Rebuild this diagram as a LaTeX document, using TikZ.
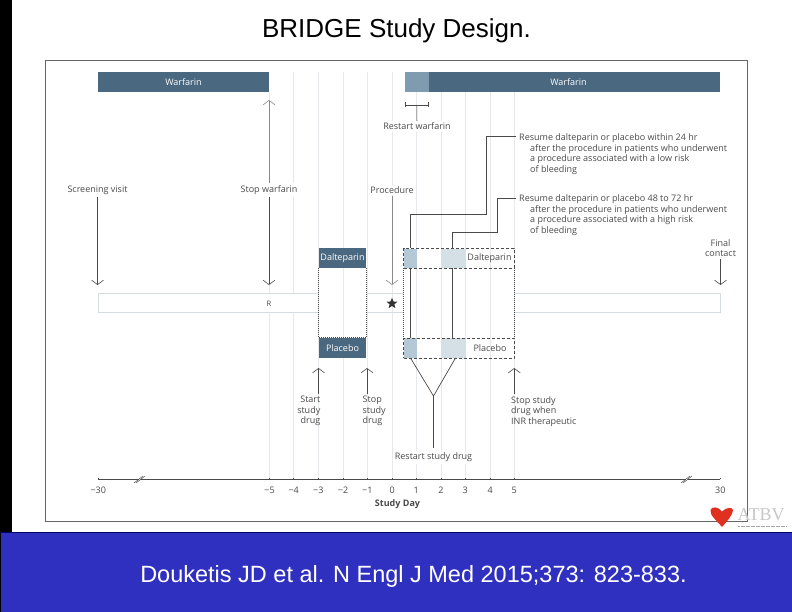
\documentclass[tikz,border=0pt]{standalone}
\usepackage{fontspec}
\setmainfont{Open Sans}
\newfontfamily\arialf{Liberation Sans}
\newfontfamily\timesf{Liberation Serif}
\usetikzlibrary{arrows.meta,shapes.geometric}
\definecolor{barblue}{HTML}{4A687F}
\definecolor{barlight}{HTML}{7F9BB0}
\definecolor{shadeA}{HTML}{B5C8D6}
\definecolor{shadeB}{HTML}{D5DFE6}
\definecolor{ink}{HTML}{4A4A4A}
\definecolor{gridc}{HTML}{E6E9EB}
\definecolor{barline}{HTML}{D3DDE0}
\definecolor{slide}{HTML}{3030C0}
\definecolor{heartc}{HTML}{E03020}
\tikzset{
  lbl/.style={font=\fontsize{9}{10.6}\selectfont,text=ink,inner sep=0pt},
  lblw/.style={lbl,fill=white,inner xsep=1pt,inner ysep=2pt},
  dose/.style={font=\fontsize{9}{10}\selectfont,text=white,inner sep=0pt,fill=barblue,minimum width=47pt,minimum height=20pt},
  wbar/.style={fill=barblue,draw=none},
  arr/.style={draw=ink,line width=.8pt,-{Straight Barb[length=4.5pt,width=12pt,line width=.6pt]}},
  arrg/.style={arr,draw=ink!65},
  conn/.style={draw=ink,line width=1pt},
  gl/.style={draw=gridc,line width=.9pt},
  dashbox/.style={draw=ink,line width=.9pt,dash pattern=on 3pt off 2pt},
  dotbox/.style={draw=ink,line width=.8pt,dash pattern=on 1pt off 1pt},
  tick/.style={draw=ink,line width=.7pt},
  ticklbl/.style={font=\fontsize{9}{10}\selectfont,text=ink,inner sep=0pt}
}
\begin{document}
\begin{tikzpicture}[x=1pt,y=-1pt]
\useasboundingbox (0,0) rectangle (792,612);
% slide furniture
\fill[white] (0,0) rectangle (792,612);
\fill[black] (0,0) rectangle (12,532);
\fill[black] (0,532) rectangle (1,612);
\fill[slide] (1,532) rectangle (792,612);
\draw[color=black!60!blue,line width=.8pt] (0,532) -- (792,532);
\node[font=\arialf\fontsize{26}{28}\selectfont,text=black,inner sep=0pt] (title) at (396.5,31) {BRIDGE Study Design.};
\node[font=\arialf\fontsize{23.5}{26}\selectfont,text=white,inner sep=0pt] (cite) at (413.5,576) {Douketis JD et al. N Engl J Med 2015;373: 823-833.};
\draw[draw=ink!85,line width=1pt] (45,60.3) rectangle (747.7,521.3);
% grid lines
\foreach \x in {293.7,318.3,343,367.3,392.3,416.3,441,465.3,490.3}{\draw[gl] (\x,72) -- (\x,479);}
\draw[gl] (269.5,92) -- (269.5,479);
\draw[gl] (514.3,92) -- (514.3,479);
% warfarin bars
\fill[wbar] (97.5,72) rectangle (269,92.5);
\fill[wbar] (405,72) rectangle (720,92.5);
\fill[barlight] (405,72) rectangle (429,92.5);
\node[font=\fontsize{9}{10}\selectfont,text=white,inner sep=0pt] (wleft) at (183.5,82) {Warfarin};
\node[font=\fontsize{9}{10}\selectfont,text=white,inner sep=0pt] (wright) at (568.5,82) {Warfarin};
% randomization bar
\fill[white] (98,293.5) rectangle (318,312.7);
\fill[white] (514.5,293.5) rectangle (720,312.7);
\draw[barline,line width=.9pt] (318,293.5) -- (98,293.5) -- (98,312.7) -- (318,312.7);
\draw[barline,line width=.9pt] (367,293.5) -- (403,293.5);
\draw[barline,line width=.9pt] (367,312.7) -- (403,312.7);
\draw[barline,line width=.9pt] (514.5,293.5) -- (720,293.5) -- (720,312.7) -- (514.5,312.7);
\node[font=\fontsize{7.5}{9}\selectfont,text=ink,inner sep=0pt] (rand) at (269,303.5) {R};
\node[star,star points=5,star point ratio=2.3,fill=ink!70!black,inner sep=0pt,minimum size=11.5pt] (star) at (392,303.5) {};
% study drug, left
\node[dose] (dal) at (342.5,258) {Dalteparin};
\node[dose] (pla) at (342.5,348) {Placebo};
\draw[dotbox] (dal.south west) -- (pla.north west);
\draw[dotbox] (dal.south east) -- (pla.north east);
\draw[dotbox] (pla.north west) -- (pla.north east);
% study drug, right
\fill[shadeA] (404,249) rectangle (417,268);
\fill[shadeB] (441,249) rectangle (466,268);
\fill[shadeA] (404,338) rectangle (417,358);
\fill[shadeB] (441,338) rectangle (466,358);
\node[font=\fontsize{9}{10}\selectfont,text=ink,inner sep=0pt] (rdal) at (489.5,258) {Dalteparin};
\node[font=\fontsize{9}{10}\selectfont,text=ink,inner sep=0pt] (rpla) at (490,348) {Placebo};
\node[dashbox,minimum width=110.5pt,minimum height=19.5pt,inner sep=0pt] (rbox1) at (458.75,258.25) {};
\node[dashbox,minimum width=110.5pt,minimum height=20pt,inner sep=0pt] (rbox2) at (458.75,348) {};
\draw[dotbox] (rbox1.south west) -- (rbox2.north west);
\draw[dotbox] (rbox1.south east) -- (rbox2.north east);
% labels with arrows
\node[lblw] (screen) at (97.5,190) {Screening visit};
\coordinate (screenE) at (97.5,285);
\draw[arr] (screen) -- (screenE);
\node[lblw] (stopw) at (269,190) {Stop warfarin};
\coordinate (stopwE) at (269,285);
\coordinate (stopwN) at (269,100);
\draw[arr] (stopw) -- (stopwE);
\draw[arrg] (stopw) -- (stopwN);
\node[lblw] (proc) at (392,190) {Procedure};
\coordinate (procE) at (392,285);
\draw[arrg] (proc) -- (procE);
\node[lbl,align=center] (final) at (720.5,248.3) {Final\\contact};
\coordinate (finalE) at (720.5,285);
\draw[arr] (final.south -| finalE) ++(0,2) -- (finalE);
% restart warfarin bracket
\coordinate (rwL) at (405,105);
\coordinate (rwR) at (429,105);
\coordinate (rwM) at (416.8,105);
\node[lblw] (rw) at (417,126.5) {Restart warfarin};
\draw[conn,line width=.8pt,{Bar[width=5pt]}-{Bar[width=5pt]}] (rwL) -- (rwR);
\draw[draw=ink,line width=.6pt] (rwM) -- (rw);
% resume connectors
\node[lbl,align=left,anchor=north west] (res1) at (519,133.5) {Resume dalteparin or placebo within 24 hr\\
\hspace*{11pt}after the procedure in patients who underwent\\
\hspace*{11pt}a procedure associated with a low risk\\
\hspace*{11pt}of bleeding};
\node[lbl,align=left,anchor=north west] (res2) at (519,194.5) {Resume dalteparin or placebo 48 to 72 hr\\
\hspace*{11pt}after the procedure in patients who underwent\\
\hspace*{11pt}a procedure associated with a high risk\\
\hspace*{11pt}of bleeding};
\coordinate (a1) at (516,137);
\coordinate (a2) at (410.3,248.5);
\coordinate (b1) at (516,198.3);
\coordinate (b2) at (452.7,248.5);
\draw[conn] (a1) -- (486.5,137) -- (486.5,215) -- (410.3,215) -- (a2);
\draw[conn] (b1) -- (497.5,198.3) -- (497.5,232.7) -- (452.7,232.7) -- (b2);
\draw[conn] (410.3,268) -- (410.3,338);
\draw[conn] (452.7,268) -- (452.7,338);
% restart study drug
\coordinate (yL) at (410.5,358);
\coordinate (yR) at (455.5,358);
\coordinate (yM) at (433.5,396);
\node[lblw] (rsd) at (433.5,457) {Restart study drug};
\draw[draw=ink,line width=.7pt] (yL) -- (yM) -- (yR);
\draw[conn] (yM) -- (433.5,448);
% bottom arrows
\node[lbl,align=right,anchor=north east] (start) at (320.5,396) {Start\\study\\drug};
\node[lbl,align=left,anchor=north west] (stop) at (362.5,396) {Stop\\study\\drug};
\node[lbl,align=left,anchor=north west] (stopinr) at (511,396) {Stop study\\drug when\\INR therapeutic};
\coordinate (startB) at (318.5,394);
\coordinate (startT) at (318.5,368);
\coordinate (stopB) at (367,394);
\coordinate (stopT) at (367,368);
\coordinate (inrB) at (514.3,394);
\coordinate (inrT) at (514.3,368);
\draw[arr] (startB) -- (startT);
\draw[arr] (stopB) -- (stopT);
\draw[arr] (inrB) -- (inrT);
% axis
\coordinate (axL) at (98.3,479.3);
\coordinate (axR) at (720.3,479.3);
\draw[draw=ink,line width=.8pt] (axL) -- (axR);
\draw[tick] (axL) -- ++(0,-1.5);
\draw[tick] (axR) -- ++(0,-1.5);
\foreach \x in {269.5,293.7,318.3,343,367.3,392.3,416.3,441,465.3,490.3,514.3}{\draw[tick] (\x,479.3) -- ++(0,-1);}
\foreach \x in {137,684}{
  \fill[white] (\x+1.5,476.5) rectangle (\x+3.5,482);
  \draw[draw=ink,line width=.5pt] (\x-3,483) -- (\x+6,476);
  \draw[draw=ink,line width=.5pt] (\x-1,483) -- (\x+8,476);
}
\foreach \x/\t in {98.3/−30,269.5/−5,293.7/−4,318.3/−3,343/−2,367.3/−1,392.3/0,416.3/1,441/2,465.3/3,490.3/4,514.3/5,720.3/30}{
  \node[ticklbl] at (\x,490) {\t};
}
\node[font=\fontsize{9}{10}\bfseries\selectfont,text=ink,inner sep=0pt] (sd) at (397.5,504) {Study Day};
% logo
\fill[heartc] (722,527) .. controls (716,520) and (709.5,515) .. (710.5,510) .. controls (711.5,506.5) and (718,506) .. (722,511.5) .. controls (726,507) and (733,507) .. (733,510) .. controls (733,515) and (727,521) .. (722,527) -- cycle;
\node[font=\timesf\fontsize{18}{18}\selectfont,text=black!22,inner sep=0pt,anchor=west] (atbv) at (737.5,514.5) {ATBV};
\draw[black!35,line width=.9pt,dash pattern=on 2pt off .5pt] (738,526) -- (787,526);
\end{tikzpicture}
\end{document}
